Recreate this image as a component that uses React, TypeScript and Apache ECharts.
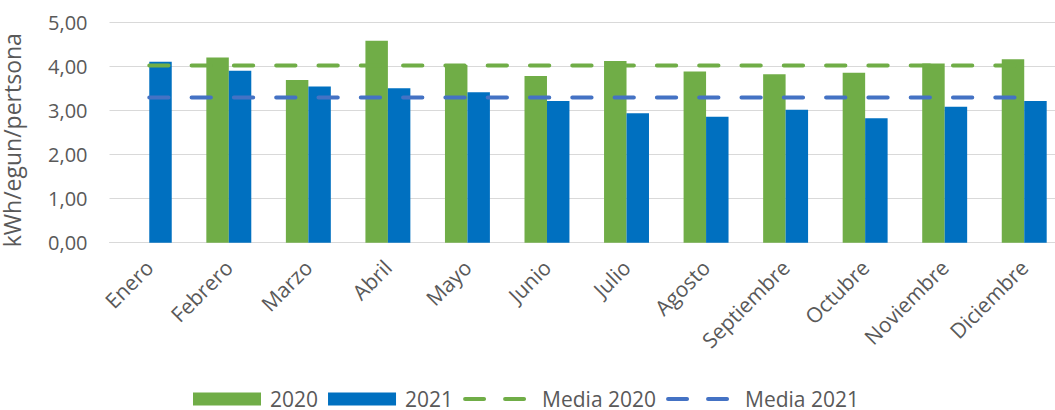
import React, { useEffect, useRef } from "react";
import * as echarts from "echarts";

const categories = [
  "Enero", "Febrero", "Marzo", "Abril", "Mayo", "Junio",
  "Julio", "Agosto", "Septiembre", "Octubre", "Noviembre", "Diciembre",
];
const values2020 = [null, 4.21, 3.7, 4.59, 4.04, 3.79, 4.13, 3.89, 3.83, 3.86, 4.07, 4.17];
const values2021 = [4.11, 3.91, 3.55, 3.51, 3.42, 3.22, 2.94, 2.86, 3.02, 2.83, 3.09, 3.22];
const media2020 = [4.03, 4.03, 4.03, 4.03, 4.03, 4.03, 4.03, 4.03, 4.03, 4.03, 4.03, 4.03];
const media2021 = [3.3, 3.3, 3.3, 3.3, 3.3, 3.3, 3.3, 3.3, 3.3, 3.3, 3.3, 3.3];
const yTicks = [0, 1, 2, 3, 4, 5];

const GREEN = "#70AD47";
const BLUE = "#0070C0";
const LBLUE = "#4472C4";
const TEXT = "#595959";
const FONT = "'Open Sans', sans-serif";

export default function App() {
  const ref = useRef<HTMLDivElement>(null);
  useEffect(() => {
    if (!ref.current) return;
    const chart = echarts.init(ref.current, undefined, { renderer: "svg" });
    chart.setOption({
      animation: false,
      textStyle: { fontFamily: FONT, color: TEXT },
      grid: {
        left: 109.5,
        right: -9,
        top: 22.7,
        bottom: 167.3,
        containLabel: false,
        outerBoundsMode: "none",
      },
      legend: {
        left: 193,
        top: 388.5,
        padding: 0,
        itemWidth: 68,
        itemHeight: 13,
        itemGap: 10,
        textStyle: {
          fontFamily: FONT,
          fontSize: 21,
          lineHeight: 21,
          color: TEXT,
          padding: [0, 0, 0, 4],
        },
        data: [
          { name: "2020", icon: "rect" },
          { name: "2021", icon: "rect" },
          {
            name: "Media 2020",
            itemStyle: { color: "rgba(0,0,0,0)", borderWidth: 0 },
            lineStyle: { color: GREEN, width: 4, type: [19, 21], cap: "round" },
          },
          {
            name: "Media 2021",
            itemStyle: { color: "rgba(0,0,0,0)", borderWidth: 0 },
            lineStyle: { color: LBLUE, width: 4, type: [19, 21], cap: "round" },
          },
        ],
      },
      xAxis: {
        type: "category",
        data: categories,
        axisLine: { show: true, lineStyle: { color: "#D9D9D9", width: 1 } },
        axisTick: { show: false },
        axisLabel: {
          rotate: 45,
          margin: 21,
          interval: 0,
          fontSize: 21,
          fontFamily: FONT,
          color: TEXT,
        },
      },
      yAxis: {
        type: "value",
        min: yTicks[0],
        max: yTicks[yTicks.length - 1],
        interval: 1,
        name: "kWh/egun/pertsona",
        nameLocation: "middle",
        nameGap: 86,
        nameRotate: 90,
        nameTextStyle: {
          fontSize: 23,
          lineHeight: 23,
          color: TEXT,
          fontFamily: FONT,
          padding: [0, 15, 0, 0],
        },
        axisLine: { show: false },
        axisTick: { show: false },
        splitLine: { lineStyle: { color: "#D9D9D9", width: 1 } },
        axisLabel: {
          fontSize: 20,
          margin: 22,
          color: TEXT,
          fontFamily: FONT,
          formatter: (v: number) => v.toFixed(2).replace(".", ","),
        },
      },
      series: [
        {
          name: "2020",
          type: "bar",
          data: values2020,
          barGap: "0%",
          barCategoryGap: "43.5%",
          itemStyle: { color: GREEN },
        },
        {
          name: "2021",
          type: "bar",
          data: values2021,
          barGap: "0%",
          barCategoryGap: "43.5%",
          itemStyle: { color: BLUE },
        },
        {
          name: "Media 2020",
          type: "line",
          data: media2020,
          symbol: "none",
          z: 5,
          itemStyle: { color: GREEN },
          lineStyle: { color: GREEN, width: 4, type: [19.3, 23], cap: "round" },
        },
        {
          name: "Media 2021",
          type: "line",
          data: media2021,
          symbol: "none",
          z: 5,
          itemStyle: { color: LBLUE },
          lineStyle: { color: LBLUE, width: 4, type: [19.3, 23], cap: "round" },
        },
      ],
    });
    return () => chart.dispose();
  }, []);
  return (
    <div
      ref={ref}
      style={{ position: "fixed", left: 0, top: 0, width: 1055, height: 410, background: "#fff" }}
    />
  );
}
